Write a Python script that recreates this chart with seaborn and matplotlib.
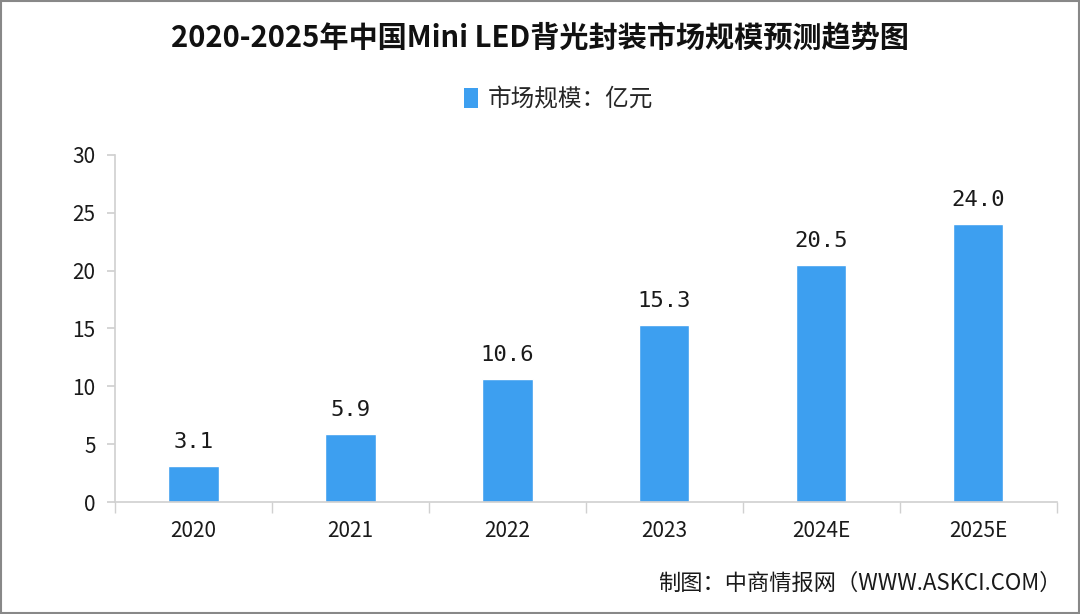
import matplotlib
matplotlib.use("Agg")
import matplotlib.pyplot as plt
import seaborn as sns
import pandas as pd
from matplotlib.patches import Patch

years = ["2020", "2021", "2022", "2023", "2024E", "2025E"]
values = [3.1, 5.9, 10.6, 15.3, 20.5, 24.0]
series_name = "市场规模：亿元"
title = "2020-2025年中国Mini LED背光封装市场规模预测趋势图"
source = "制图：中商情报网（WWW.ASKCI.COM）"

sns.set_theme(style="white")
plt.rcParams['font.family'] = ['Noto Sans CJK SC', 'DejaVu Sans']

df = pd.DataFrame({"year": years, "value": values, "series": series_name})

fig = plt.figure(figsize=(10.8, 6.14), dpi=100)
ax = fig.add_axes([0.1065, 0.1824, 0.872, 0.5652])
bar_color = "#3d9ff0"
sns.barplot(data=df, x="year", y="value", hue="series", palette=[bar_color],
            width=0.32, ax=ax, legend=False, saturation=1)

ax.set_ylim(0, 30)
ax.set_xlim(-0.5, len(years) - 0.5)
ax.set_yticks(range(0, 31, 5))
ax.set_xlabel("")
ax.set_ylabel("")
for s in ["top", "right"]:
    ax.spines[s].set_visible(False)
for s in ["left", "bottom"]:
    ax.spines[s].set_color("#d0d0d0")
    ax.spines[s].set_linewidth(1.2)
ax.tick_params(axis="y", length=6, color="#d0d0d0", labelsize=15, labelcolor="#1a1a1a", left=True, pad=8)
ax.tick_params(axis="x", length=0, labelsize=15, labelcolor="#1a1a1a", pad=13)
ax.set_xticks([i - 0.5 for i in range(len(years) + 1)], minor=True)
ax.tick_params(axis="x", which="minor", length=8, color="#d0d0d0", bottom=True)

for i, v in enumerate(values):
    ax.annotate(f"{v:.1f}", (i, v), xytext=(0, 10), textcoords="offset points",
                ha="center", va="bottom", fontsize=16, color="#1a1a1a",
                family=["DejaVu Sans Mono"])

fig.text(0.5, 0.938, title, ha="center", va="center", fontsize=21, fontweight="bold", color="#111111")

handles = [Patch(facecolor=bar_color, edgecolor="none", label=series_name)]
fig.legend(handles=handles, loc="center", bbox_to_anchor=(0.517, 0.838), frameon=False,
           fontsize=17, handlelength=0.6, handleheight=0.9, handletextpad=0.4)

fig.text(0.609, 0.05, source, ha="left", va="center", fontsize=16, color="#1a1a1a")

border = plt.Rectangle((0.001, 0.002), 0.998, 0.996, transform=fig.transFigure,
                       fill=False, edgecolor="#888888", linewidth=1.5)
fig.patches.append(border)

fig.savefig("out.png", dpi=100)
